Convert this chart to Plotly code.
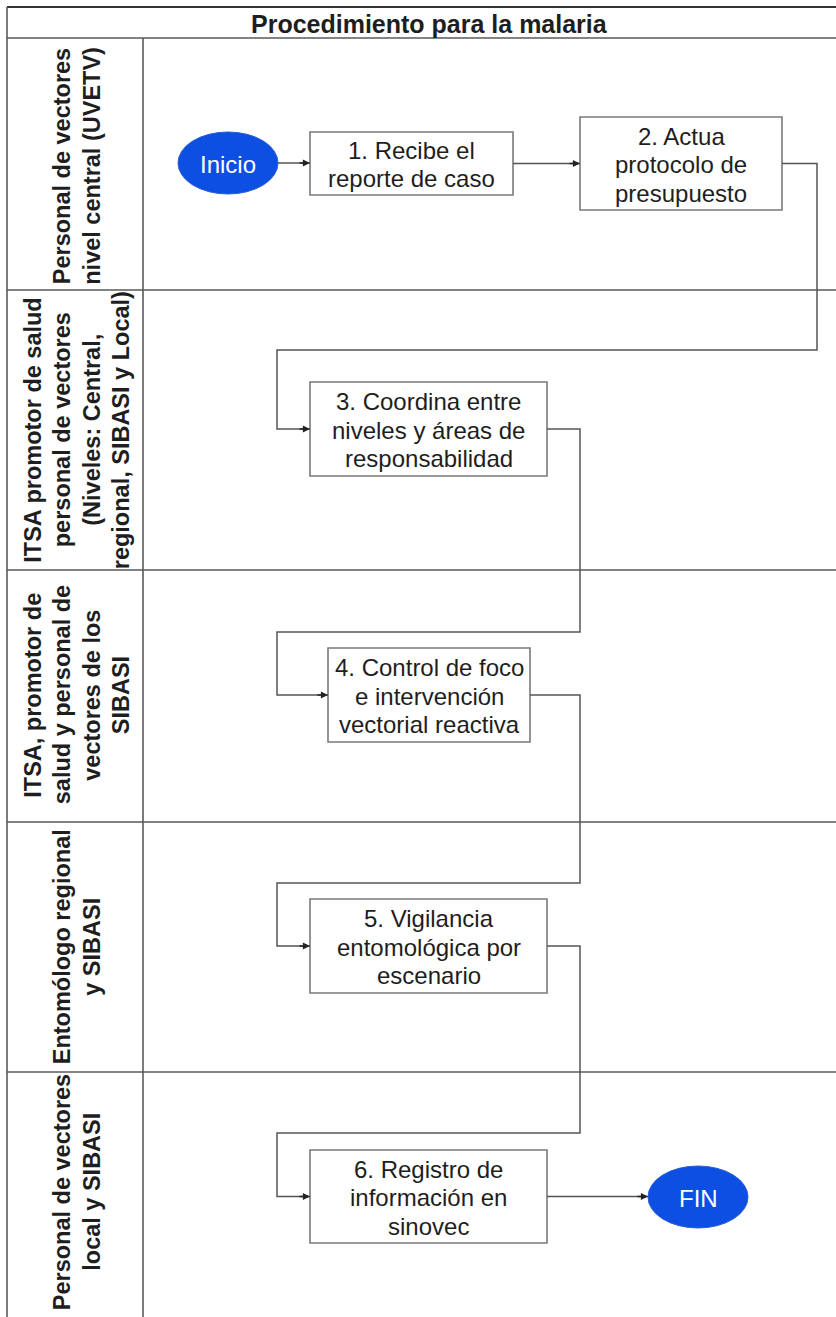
import plotly.graph_objects as go

# ---------------- content ----------------
title = "Procedimiento para la malaria"
lane_labels = [
    ["Personal de vectores", "nivel central (UVETV)"],
    ["ITSA promotor de salud", "personal de vectores", "(Niveles: Central,", "regional, SIBASI y Local)"],
    ["ITSA, promotor de", "salud y personal de", "vectores de los", "SIBASI"],
    ["Entomólogo regional", "y SIBASI"],
    ["Personal de vectores", "local y SIBASI"],
]
step_labels = [
    ["1. Recibe el", "reporte de caso"],
    ["2. Actua", "protocolo de", "presupuesto"],
    ["3. Coordina entre", "niveles y áreas de", "responsabilidad"],
    ["4. Control de foco", "e intervención", "vectorial reactiva"],
    ["5. Vigilancia", "entomológica por", "escenario"],
    ["6. Registro de", "información en", "sinovec"],
]
step_lane = [0, 0, 1, 2, 3, 4]
start_label = "Inicio"
end_label = "FIN"

# ---------------- geometry (layout) ----------------
W, H = 836, 1317
frame_left, frame_top, title_bottom, header_right = 7, 7, 38, 143
lane_bounds = [38, 290, 570, 822, 1072, 1317]
lane_label_cy = [166, 430, 695, 947, 1192]
lane_label_cx = 77
lane_line_gap = 29.5
box_line_gap = 28.5
step_boxes = [(310, 513, 132, 195), (580, 782, 117, 210), (310, 547, 382, 476),
              (328, 530, 648, 742), (310, 547, 899, 993), (310, 547, 1150, 1243)]
start_ell = (228, 163, 50, 31)
end_ell = (698, 1197, 50, 31)
elbow_x = [None, None, 817, 580, 580, 580]
return_y = [None, None, 350, 632, 883, 1133]
entry_x = 277

FRAME = "#5a5a5a"
BOXLINE = "#7a7a7a"
CONN = "#555555"
TXT = "#1e1e1e"
BLUE = "#0d4fe2"
FONT = "Liberation Sans, Arial, sans-serif"

fig = go.Figure()
shapes = []
ann = []

def line(x0, y0, x1, y1, color=FRAME, w=1.6):
    shapes.append(dict(type="line", xref="x", yref="y", x0=x0, y0=y0, x1=x1, y1=y1,
                       line=dict(color=color, width=w)))

# frame
line(frame_left, frame_top, W, frame_top, color="#333333", w=1.8)
line(frame_left, frame_top, frame_left, H)
line(frame_left, title_bottom, W, title_bottom)
line(header_right, title_bottom, header_right, H)
for yb in lane_bounds[1:-1]:
    line(frame_left, yb, W, yb)

ann.append(dict(x=(frame_left + W) / 2 + 8, y=(frame_top + title_bottom) / 2 + 1, text="<b>%s</b>" % title,
                showarrow=False, xanchor="center", yanchor="middle",
                font=dict(family=FONT, size=25, color=TXT)))

# lane labels
for i, lines in enumerate(lane_labels):
    n = len(lines)
    for k, t in enumerate(lines):
        ann.append(dict(x=lane_label_cx + (k - (n - 1) / 2) * lane_line_gap, y=lane_label_cy[i],
                        text="<b>%s</b>" % t, textangle=-90, showarrow=False,
                        xanchor="center", yanchor="middle",
                        font=dict(family=FONT, size=23.5, color=TXT)))

# terminals
for (cx, cy, rx, ry), lab in [(start_ell, start_label), (end_ell, end_label)]:
    shapes.append(dict(type="circle", xref="x", yref="y", x0=cx - rx, x1=cx + rx, y0=cy - ry, y1=cy + ry,
                       fillcolor=BLUE, line=dict(color="#2a5fd8", width=1)))
    ann.append(dict(x=cx, y=cy + 1, text=lab, showarrow=False, xanchor="center", yanchor="middle",
                    font=dict(family=FONT, size=24, color="white")))

# boxes
for (x0, x1, y0, y1), lines in zip(step_boxes, step_labels):
    shapes.append(dict(type="rect", xref="x", yref="y", x0=x0, x1=x1, y0=y0, y1=y1,
                       fillcolor="white", line=dict(color=BOXLINE, width=1.6)))
    cy = (y0 + y1) / 2
    n = len(lines)
    for k, t in enumerate(lines):
        ann.append(dict(x=(x0 + x1) / 2, y=cy + (k - (n - 1) / 2) * box_line_gap + 1, text=t,
                        showarrow=False, xanchor="center", yanchor="middle",
                        font=dict(family=FONT, size=24, color=TXT)))

def arrow_head(x, y):
    ann.append(dict(x=x, y=y, ax=x - 12, ay=y, xref="x", yref="y", axref="x", ayref="y",
                    text="", showarrow=True, arrowhead=2, arrowsize=1.1, arrowwidth=1.3,
                    arrowcolor="#222222", standoff=0))

def path(pts):
    d = "M %s %s " % pts[0] + " ".join("L %s %s" % p for p in pts[1:])
    shapes.append(dict(type="path", xref="x", yref="y", path=d, line=dict(color=CONN, width=1.5)))

# start -> step 1
b = step_boxes[0]
path([(start_ell[0] + start_ell[2], start_ell[1]), (b[0], start_ell[1])])
arrow_head(b[0], start_ell[1])

for i in range(1, len(step_boxes)):
    p = step_boxes[i - 1]
    c = step_boxes[i]
    pcy = (p[2] + p[3]) / 2
    ccy = (c[2] + c[3]) / 2
    if step_lane[i] == step_lane[i - 1]:
        path([(p[1], pcy), (c[0], pcy)])
        arrow_head(c[0], pcy)
    else:
        path([(p[1], pcy), (elbow_x[i], pcy), (elbow_x[i], return_y[i]),
              (entry_x, return_y[i]), (entry_x, ccy), (c[0], ccy)])
        arrow_head(c[0], ccy)

# last step -> end
b = step_boxes[-1]
bcy = (b[2] + b[3]) / 2
path([(b[1], bcy), (end_ell[0] - end_ell[2], bcy)])
arrow_head(end_ell[0] - end_ell[2], bcy)

fig.update_layout(
    width=W, height=H, margin=dict(l=0, r=0, t=0, b=0),
    paper_bgcolor="white", plot_bgcolor="white",
    xaxis=dict(range=[0, W], visible=False, fixedrange=True),
    yaxis=dict(range=[H, 0], visible=False, fixedrange=True),
    shapes=shapes, annotations=ann, showlegend=False,
)
fig.write_html("out.html", config={"displayModeBar": False},
               post_script="document.body.style.margin='0';document.body.style.padding='0';"
                           "document.body.style.overflow='hidden';")
